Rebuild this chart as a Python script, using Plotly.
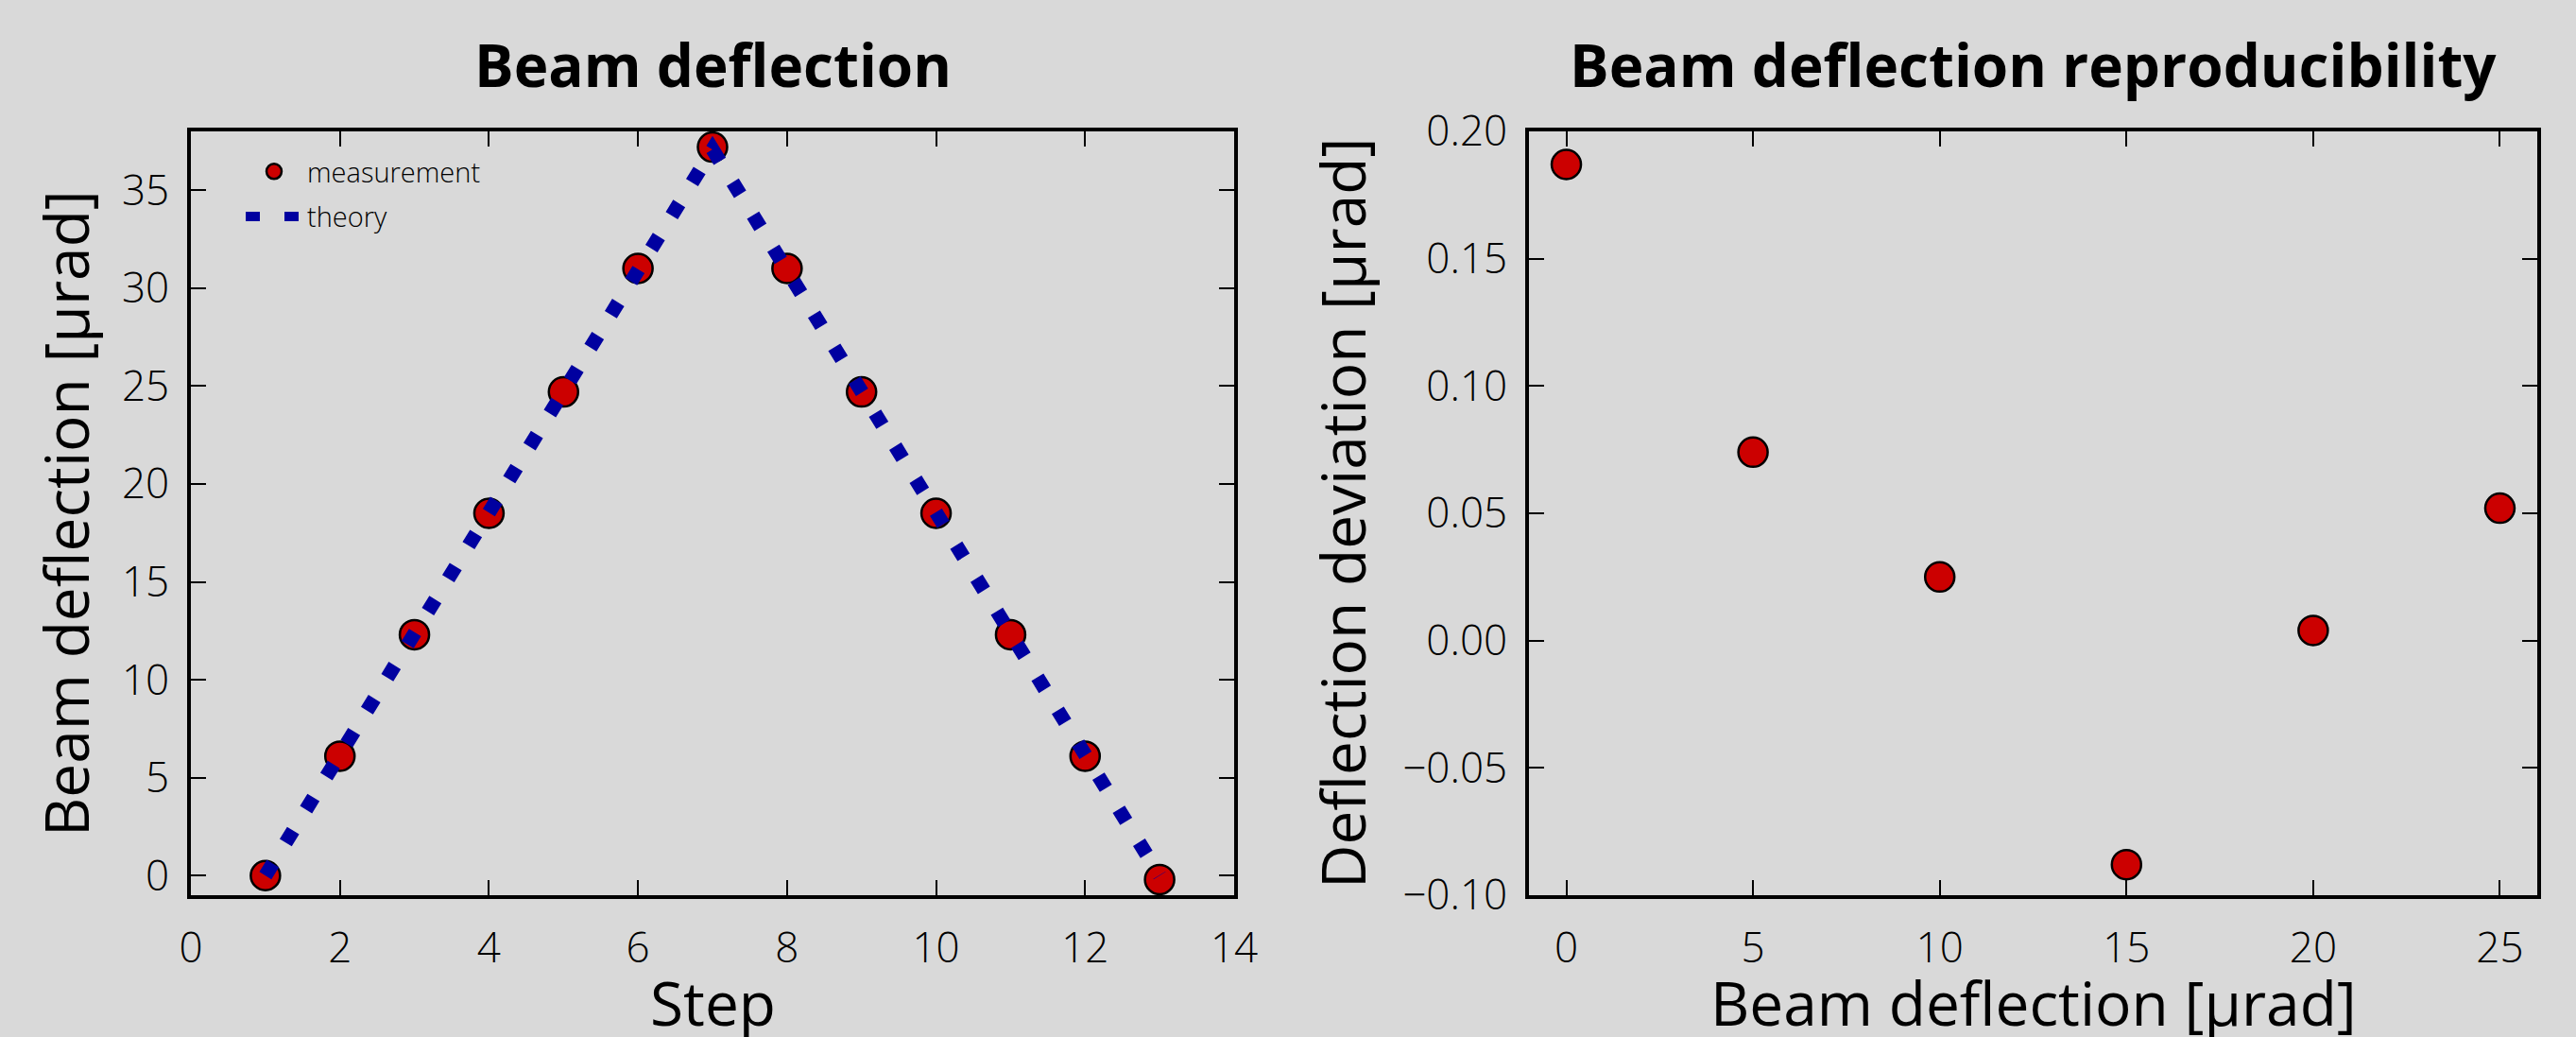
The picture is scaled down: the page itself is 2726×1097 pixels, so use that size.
import plotly.graph_objects as go

# ---- data ----
steps = [1, 2, 3, 4, 5, 6, 7, 8, 9, 10, 11, 12, 13]
measurement = [0.0, 6.1, 12.3, 18.5, 24.7, 31.0, 37.2, 31.0, 24.7, 18.5, 12.3, 6.1, -0.2]
theory = [0.0, 6.18, 12.36, 18.54, 24.72, 30.9, 37.08, 30.9, 24.72, 18.54, 12.36, 6.18, 0.0]

repro_x = [0, 5, 10, 15, 20, 25]
repro_dev = [0.187, 0.074, 0.025, -0.088, 0.004, 0.052]

left_xticks = [0, 2, 4, 6, 8, 10, 12, 14]
left_yticks = [0, 5, 10, 15, 20, 25, 30, 35]
right_xticks = [0, 5, 10, 15, 20, 25]
right_yticks = [-0.10, -0.05, 0.00, 0.05, 0.10, 0.15, 0.20]

W, H = 2726, 1097
BG = "#d9d9d9"
RED = "#cc0000"
BLUE = "#0000a0"
FONT = "Open Sans"

fig = go.Figure()

fig.add_trace(go.Scatter(
    x=steps, y=measurement, mode="markers", name="measurement", legendgroup="m",
    marker=dict(color=RED, size=31, line=dict(color="black", width=2.5)),
    xaxis="x", yaxis="y"))
fig.add_trace(go.Scatter(
    x=steps, y=theory, mode="lines", name="theory", legendgroup="t",
    line=dict(color=BLUE, width=15, dash="15px,26px"),
    xaxis="x", yaxis="y"))
fig.add_trace(go.Scatter(
    x=repro_x, y=repro_dev, mode="markers", showlegend=False,
    marker=dict(color=RED, size=31, line=dict(color="black", width=2.5)),
    xaxis="x2", yaxis="y2"))

L0, L1 = 202 / W, 1306 / W
R0, R1 = 1618 / W, 2685 / W
Y0, Y1 = 1 - 947 / H, 1 - 139 / H

axis_common = dict(
    showline=True, linecolor="black", linewidth=4, mirror="allticks",
    ticks="inside", ticklen=16, tickwidth=2, tickcolor="black",
    showgrid=False, zeroline=False, automargin=False,
    tickfont=dict(family=FONT, size=44, color="black", weight=300),
)

fig.update_layout(
    width=W, height=H,
    paper_bgcolor=BG, plot_bgcolor=BG,
    margin=dict(l=0, r=0, t=0, b=0, pad=0, autoexpand=False),
    font=dict(family=FONT, color="black"),
    xaxis=dict(domain=[L0, L1], range=[0, 14], tickvals=left_xticks,
               anchor="y", ticklabelstandoff=14, **axis_common),
    yaxis=dict(domain=[Y0, Y1], range=[-1, 38], tickvals=left_yticks,
               anchor="x", ticklabelstandoff=10, **axis_common),
    xaxis2=dict(domain=[R0, R1], range=[-1, 26], tickvals=right_xticks,
                anchor="y2", ticklabelstandoff=14, **axis_common),
    yaxis2=dict(domain=[Y0, Y1], range=[-0.1, 0.2], tickvals=right_yticks,
                tickformat=".2f", anchor="x2", ticklabelstandoff=10, **axis_common),
    showlegend=True,
    legend=dict(x=255 / W, y=1 - 156 / H, xanchor="left", yanchor="top",
                bgcolor="rgba(0,0,0,0)", itemwidth=60, tracegroupgap=7,
                font=dict(family=FONT, size=29, color="black", weight=300)),
)

annotations = [
    dict(text="<b>Beam deflection</b>", x=(L0 + L1) / 2, y=1 - 68 / H,
         font=dict(size=62)),
    dict(text="<b>Beam deflection reproducibility</b>", x=(R0 + R1) / 2, y=1 - 68 / H,
         font=dict(size=62)),
    dict(text="Step", x=(L0 + L1) / 2, y=1 - 1060 / H, font=dict(size=64)),
    dict(text="Beam deflection [μrad]", x=(R0 + R1) / 2, y=1 - 1060 / H, font=dict(size=64)),
    dict(text="Beam deflection [μrad]", x=69 / W, y=(Y0 + Y1) / 2, textangle=-90,
         font=dict(size=64)),
    dict(text="Deflection deviation [μrad]", x=1420 / W, y=(Y0 + Y1) / 2, textangle=-90,
         font=dict(size=64)),
]
for a in annotations:
    a.update(xref="paper", yref="paper", showarrow=False,
             xanchor="center", yanchor="middle")
    a["font"].update(family=FONT, color="black")
fig.update_layout(annotations=annotations)

fig.write_html("out.html", config={"displayModeBar": False},
               post_script="document.body.style.margin='0';")
